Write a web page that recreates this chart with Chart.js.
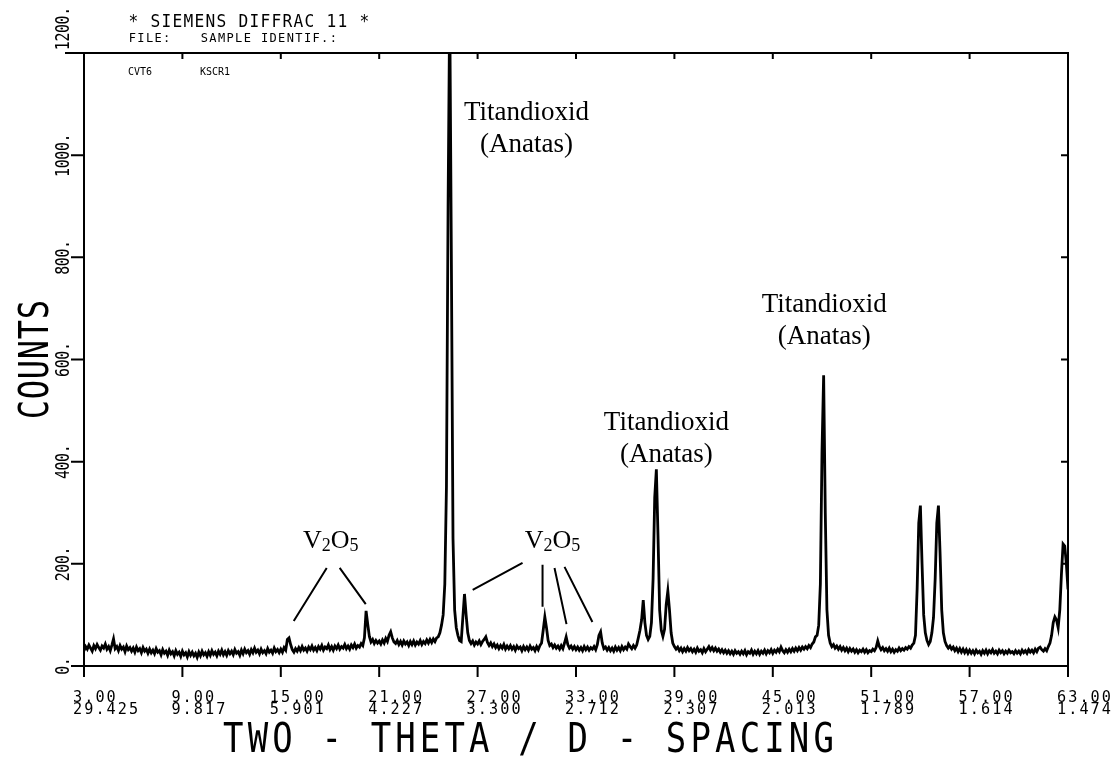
<!DOCTYPE html>
<html><head><meta charset="utf-8">
<script src="https://cdn.jsdelivr.net/npm/chart.js@4.4.1/dist/chart.umd.min.js"></script>
<style>html,body{margin:0;padding:0;background:#fff;}#wrap{width:1119px;height:757px;position:relative;}canvas{display:block;}</style>
</head><body><div id="wrap"><canvas id="c" width="1119" height="757"></canvas></div>
<script>
// ---- data ----
const thetaStart = 3.0;   // first sampled 2-theta (deg)
const thetaStep = 0.1;    // sampling step (deg)
const counts = [
 30,38,33,41,35,29,40,34,42,36,
 31,39,35,43,33,38,30,41,53,34,
 38,30,40,33,37,28,39,32,36,29,
 35,27,37,30,34,26,36,29,33,25,
 33,26,31,24,34,27,30,22,32,25,
 29,21,31,24,28,20,30,23,27,19,
 29,22,26,18,28,21,27,20,25,17,
 27,20,29,22,26,19,28,21,30,23,
 27,20,29,23,31,22,28,21,30,24,
 29,22,32,25,28,21,31,24,33,26,
 30,23,32,26,35,27,31,24,33,26,
 30,24,34,27,31,25,35,28,32,26,
 33,27,36,31,52,55,42,32,27,34,
 29,36,30,38,31,35,29,37,32,39,
 31,36,30,38,33,40,31,37,34,41,
 32,38,31,39,34,41,33,38,35,42,
 34,39,33,41,36,43,35,40,37,44,
 40,55,108,82,58,47,52,44,50,45,
 49,43,51,45,54,48,60,67,55,47,
 44,50,42,48,41,49,43,47,40,48,
 42,49,41,47,43,50,42,48,44,51,
 45,52,46,53,48,55,57,65,80,100,
 160,350,900,1300,800,250,110,75,60,50,
 48,95,141,100,65,50,44,49,41,47,
 43,49,42,48,52,57,46,40,45,38,
 43,36,41,34,40,35,42,33,39,34,
 40,33,38,31,39,34,37,30,38,32,
 37,31,39,33,36,30,38,32,40,45,
 70,96,75,50,40,43,36,41,35,39,
 33,40,34,45,57,42,35,39,33,38,
 32,37,31,36,30,38,32,37,31,36,
 33,38,32,42,60,67,45,34,37,31,
 36,30,35,29,37,31,36,30,38,32,
 37,33,43,38,34,40,35,41,55,70,
 90,129,85,60,52,58,85,170,330,385,
 255,110,70,58,72,120,147,110,65,45,
 38,33,37,30,35,28,34,29,36,30,
 34,28,33,27,35,29,32,26,34,28,
 33,38,31,36,30,35,29,33,27,32,
 26,31,25,30,24,29,23,30,25,28,
 23,29,24,30,22,28,25,31,23,29,
 24,30,23,29,25,31,24,30,26,32,
 25,31,27,33,28,37,30,26,32,27,
 33,28,34,29,35,30,36,31,37,33,
 38,34,40,36,43,47,57,60,80,160,
 420,569,300,110,60,45,38,42,35,39,
 33,38,31,36,30,35,28,34,29,33,
 27,32,26,31,28,33,27,32,26,30,
 28,33,30,36,49,38,32,36,30,34,
 29,35,28,33,27,32,29,35,30,34,
 31,36,33,38,35,41,45,60,150,280,
 314,200,100,65,50,42,48,65,95,170,
 280,314,220,110,65,48,40,35,39,33,
 37,30,35,28,34,27,33,26,32,25,
 31,25,30,24,31,26,29,23,30,25,
 31,24,30,26,32,25,29,24,31,26,
 30,24,29,25,31,26,28,24,30,25,
 29,24,31,26,30,25,32,27,31,26,
 33,28,35,37,32,29,34,30,38,45,
 60,85,96,90,75,110,180,239,235,200,
 150
];
const xMin = 3, xMax = 63, yMin = 0, yMax = 1200;
const xTickTheta = [3, 9, 15, 21, 27, 33, 39, 45, 51, 57, 63];
const xTickThetaLabels = ['3.00','9.00','15.00','21.00','27.00','33.00','39.00','45.00','51.00','57.00','63.00'];
const xTickDLabels = ['29.425','9.817','5.901','4.227','3.300','2.712','2.307','2.013','1.789','1.614','1.474'];
const yTicks = [0, 200, 400, 600, 800, 1000, 1200];
const yTickLabels = ['0.','200.','400.','600.','800.','1000.','1200.'];

// annotation texts (anchored in data coordinates)
const titanText = ['Titandioxid', '(Anatas)'];
const titanAnchors = [[29.98, 1069], [38.51, 462], [48.14, 693]];
const v2o5Anchors = [[18.05, 231], [31.57, 231]];
const v2o5Leaders = [
  [[17.80,192],[15.79,88]], [[18.59,192],[20.18,121]],
  [[29.74,202],[26.70,149]], [[30.96,198],[30.96,116]],
  [[31.69,192],[32.42,82]], [[32.30,194],[34.00,86]]
];

// ---- drawing helpers ----
const MONO = '"DejaVu Sans Mono", monospace';
function monoText(ctx, str, x, y, o) {
  const n = str.length, total = o.cell * n;
  const start = o.align === 'center' ? x - total / 2 : (o.align === 'right' ? x - total : x);
  ctx.font = (o.weight || 'normal') + ' ' + o.size + 'px ' + MONO;
  ctx.textAlign = 'center'; ctx.textBaseline = 'alphabetic';
  for (let i = 0; i < n; i++) {
    const ch = str[i]; if (ch === ' ') continue;
    ctx.save();
    ctx.translate(start + o.cell * (i + 0.5), y);
    ctx.scale(o.sx || 1, 1);
    ctx.fillText(ch, 0, 0);
    ctx.restore();
  }
}

const framePlugin = {
  id: 'frame',
  afterDatasetsDraw(chart) {
    const ctx = chart.ctx, xs = chart.scales.x, ys = chart.scales.y;
    const L = xs.getPixelForValue(xMin), R = xs.getPixelForValue(xMax);
    const T = ys.getPixelForValue(yMax), B = ys.getPixelForValue(yMin);
    ctx.save();
    ctx.strokeStyle = '#000'; ctx.fillStyle = '#000'; ctx.lineWidth = 2;
    ctx.beginPath();
    ctx.moveTo(L - 19, T); ctx.lineTo(R + 1, T);
    ctx.moveTo(L - 13, B); ctx.lineTo(R + 1, B);
    ctx.moveTo(L, T); ctx.lineTo(L, B + 1);
    ctx.moveTo(R, T); ctx.lineTo(R, B + 1);
    yTicks.forEach(v => {
      const py = ys.getPixelForValue(v);
      ctx.moveTo(L - 13, py); ctx.lineTo(L, py);
      ctx.moveTo(R - 7, py); ctx.lineTo(R, py);
    });
    xTickTheta.forEach(v => {
      const px = xs.getPixelForValue(v);
      ctx.moveTo(px, B); ctx.lineTo(px, B + 11);
      ctx.moveTo(px, T); ctx.lineTo(px, T + 6);
    });
    ctx.stroke();

    // x tick labels (two lines)
    xTickTheta.forEach((v, i) => {
      const px = xs.getPixelForValue(v);
      monoText(ctx, xTickThetaLabels[i], px - 12, B + 36, {cell: 11.2, size: 16, sx: 0.95});
      monoText(ctx, xTickDLabels[i], px - 12, B + 48, {cell: 11.2, size: 16, sx: 0.95});
    });
    // y tick labels (rotated)
    yTicks.forEach((v, i) => {
      const py = ys.getPixelForValue(v);
      ctx.save();
      ctx.translate(L - 15, py);
      ctx.rotate(-Math.PI / 2);
      const o = {cell: 8.6, size: 20, sx: 0.75};
      if (v === yMax) monoText(ctx, yTickLabels[i], 3, 0, Object.assign({align: 'left'}, o));
      else monoText(ctx, yTickLabels[i], 0, 0, Object.assign({align: 'center'}, o));
      ctx.restore();
    });
    // axis titles
    monoText(ctx, 'TWO - THETA / D - SPACING', 221, 752, {cell: 24.6, size: 40, sx: 0.85});
    ctx.save();
    ctx.translate(48, (T + B) / 2);
    ctx.rotate(-Math.PI / 2);
    monoText(ctx, 'COUNTS', 0, 0, {cell: 20, size: 40, sx: 0.8, align: 'center'});
    ctx.restore();
    // header
    monoText(ctx, '* SIEMENS DIFFRAC 11 *', 128, 27, {cell: 11, size: 18, sx: 0.9});
    monoText(ctx, 'FILE:', 128, 42, {cell: 8.6, size: 12});
    monoText(ctx, 'SAMPLE IDENTIF.:', 200, 42, {cell: 8.6, size: 12});
    monoText(ctx, 'CVT6', 128, 75, {cell: 6, size: 10});
    monoText(ctx, 'KSCR1', 200, 75, {cell: 6, size: 10});

    // annotations
    ctx.font = '27px "Liberation Serif", "Times New Roman", serif';
    ctx.textAlign = 'center'; ctx.textBaseline = 'alphabetic';
    titanAnchors.forEach(([t, c]) => {
      const px = xs.getPixelForValue(t), py = ys.getPixelForValue(c);
      ctx.fillText(titanText[0], px, py);
      ctx.fillText(titanText[1], px, py + 32);
    });
    v2o5Anchors.forEach(([t, c]) => {
      const px = xs.getPixelForValue(t), py = ys.getPixelForValue(c);
      const big = '26px "Liberation Serif", serif', small = '18px "Liberation Serif", serif';
      const parts = [['V', big, 0], ['2', small, 3], ['O', big, 0], ['5', small, 3]];
      let w = 0;
      parts.forEach(p => { ctx.font = p[1]; w += ctx.measureText(p[0]).width; });
      let cx = px - w / 2;
      ctx.textAlign = 'left';
      parts.forEach(p => { ctx.font = p[1]; ctx.fillText(p[0], cx, py + p[2]); cx += ctx.measureText(p[0]).width; });
      ctx.textAlign = 'center';
    });
    ctx.lineWidth = 2;
    ctx.beginPath();
    v2o5Leaders.forEach(([a, b]) => {
      ctx.moveTo(xs.getPixelForValue(a[0]), ys.getPixelForValue(a[1]));
      ctx.lineTo(xs.getPixelForValue(b[0]), ys.getPixelForValue(b[1]));
    });
    ctx.stroke();
    ctx.restore();
  }
};

const points = counts.map((c, i) => ({x: Math.round((thetaStart + i * thetaStep) * 100) / 100, y: c}));

new Chart(document.getElementById('c'), {
  type: 'line',
  data: { datasets: [{ data: points, borderColor: '#000', borderWidth: 2.8, pointRadius: 0, tension: 0, fill: false }] },
  options: {
    responsive: false, animation: false, devicePixelRatio: 1,
    layout: { padding: { left: 84, right: 51, top: 53, bottom: 91 } },
    plugins: { legend: { display: false }, tooltip: { enabled: false }, title: { display: false } },
    scales: {
      x: { type: 'linear', min: xMin, max: xMax, display: false },
      y: { type: 'linear', min: yMin, max: yMax, display: false }
    }
  },
  plugins: [framePlugin]
});
</script></body></html>
